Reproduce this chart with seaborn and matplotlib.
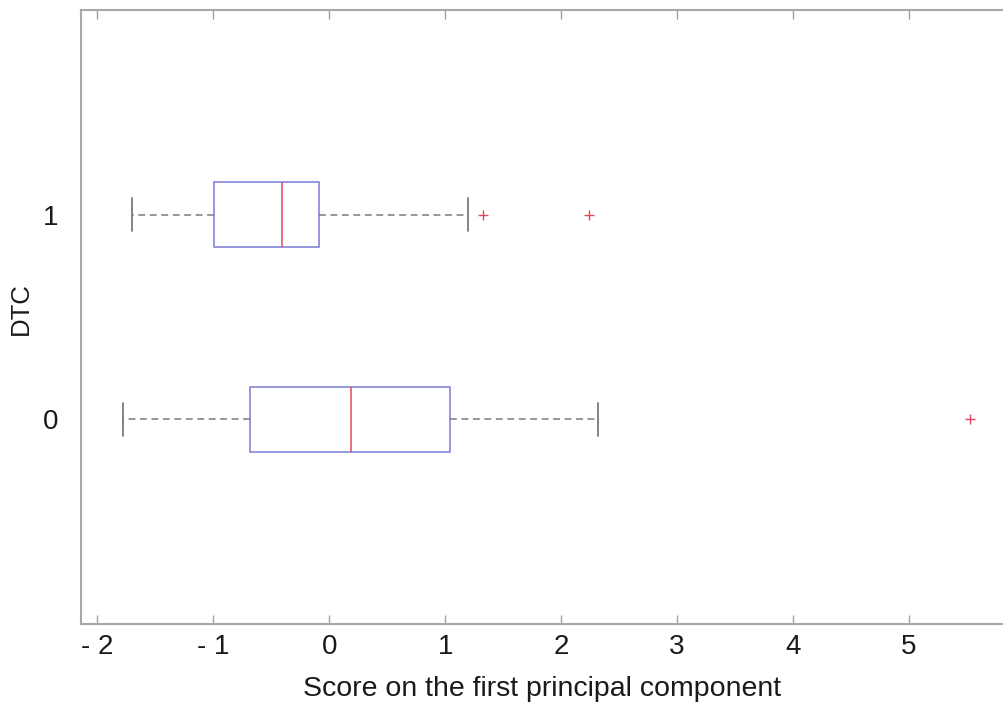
import numpy as np
import pandas as pd
import matplotlib
matplotlib.use("Agg")
import matplotlib.pyplot as plt
import seaborn as sns

# Box summary (score on first principal component)
dtc_groups = ["0", "1"]
whisker_low = [-1.78, -1.70]
q1 = [-0.68, -0.99]
median = [0.19, -0.41]
q3 = [1.04, -0.09]
whisker_high = [2.32, 1.20]

# outliers
outlier_group = ["0", "1", "1"]
outlier_score = [5.53, 1.33, 2.24]

x_ticks = [-2, -1, 0, 1, 2, 3, 4, 5]
x_labels = ["- 2", "- 1", "0", "1", "2", "3", "4", "5"]

# five numbers per group -> quartiles come out exactly
rows = []
for i, g in enumerate(dtc_groups):
    for v in [whisker_low[i], q1[i], median[i], q3[i], whisker_high[i]]:
        rows.append({"DTC": g, "score": v})
df = pd.DataFrame(rows)
out_df = pd.DataFrame({"DTC": outlier_group, "score": outlier_score})

sns.set_style("white")
plt.rcParams["font.family"] = ["Liberation Sans", "DejaVu Sans"]

fig = plt.figure(figsize=(10.04, 7.08), dpi=100)
ax = fig.add_axes([80.7 / 1004, 1 - 624 / 708, (1004 - 80.7) / 1004, 614 / 708])

order = ["1", "0"]
sns.boxplot(
    data=df, x="score", y="DTC", order=order, orient="h",
    width=0.32, whis=(0, 100), showfliers=False, ax=ax,
    boxprops={"facecolor": "white", "edgecolor": "#7b7bd6", "linewidth": 1.1},
    medianprops={"color": "#e6455f", "linewidth": 1.1},
    whiskerprops={"color": "#7a7a7a", "linestyle": (0, (4.5, 3)), "linewidth": 1.1},
    capprops={"color": "#7a7a7a", "linewidth": 1.3},
)
sns.stripplot(
    data=out_df, x="score", y="DTC", order=order, orient="h",
    jitter=False, marker="+", color="#e6455f", size=7, linewidth=1, ax=ax,
)

ax.set_ylim(2, -1)
ax.set_xlim(-2.143, 5.82)
ax.set_xticks(x_ticks)
ax.set_xticklabels(x_labels)

ax.tick_params(axis="x", direction="in", length=6.5, width=1, color="#a0a0a0",
               top=True, bottom=True, labelsize=20, pad=7, labelcolor="#1a1a1a")
ax.tick_params(axis="y", length=0, labelsize=20, pad=16, labelcolor="#1a1a1a")

for side in ["top", "left", "bottom"]:
    ax.spines[side].set_color("#a8a8a8")
    ax.spines[side].set_linewidth(1.5)
ax.spines["right"].set_visible(False)

ax.set_xlabel("Score on the first principal component", fontsize=20.5, color="#1a1a1a", labelpad=12)
ax.set_ylabel("DTC", fontsize=18.5, color="#1a1a1a")
ax.yaxis.set_label_coords(-0.0517, 0.513)

fig.savefig("out.png", dpi=100)
